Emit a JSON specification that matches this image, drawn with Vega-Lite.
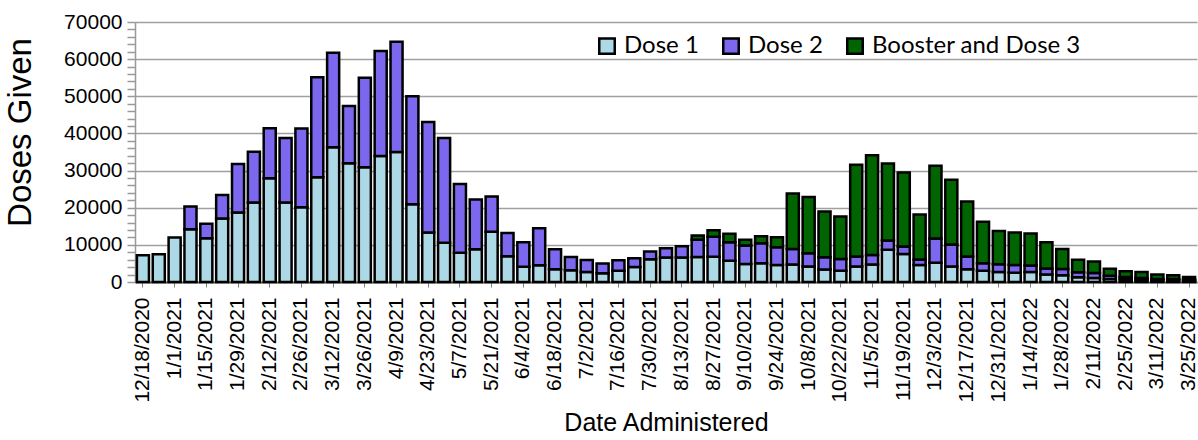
{
  "$schema": "https://vega.github.io/schema/vega-lite/v6.json",
  "width": 1062,
  "height": 260,
  "autosize": {"type": "none"},
  "padding": {"left": 135, "top": 22, "right": 1, "bottom": 158},
  "background": "white",
  "config": {
    "view": {"stroke": null},
    "font": "Liberation Sans"
  },
  "data": {
    "values": [
      {"date": "12/18/2020", "Dose 1": 7200, "Dose 2": 0, "Booster and Dose 3": 0},
      {"date": "12/25/2020", "Dose 1": 7500, "Dose 2": 0, "Booster and Dose 3": 0},
      {"date": "1/1/2021", "Dose 1": 12000, "Dose 2": 0, "Booster and Dose 3": 0},
      {"date": "1/8/2021", "Dose 1": 14200, "Dose 2": 6100, "Booster and Dose 3": 0},
      {"date": "1/15/2021", "Dose 1": 11800, "Dose 2": 3900, "Booster and Dose 3": 0},
      {"date": "1/22/2021", "Dose 1": 17100, "Dose 2": 6300, "Booster and Dose 3": 0},
      {"date": "1/29/2021", "Dose 1": 18700, "Dose 2": 13100, "Booster and Dose 3": 0},
      {"date": "2/5/2021", "Dose 1": 21400, "Dose 2": 13700, "Booster and Dose 3": 0},
      {"date": "2/12/2021", "Dose 1": 27900, "Dose 2": 13500, "Booster and Dose 3": 0},
      {"date": "2/19/2021", "Dose 1": 21400, "Dose 2": 17400, "Booster and Dose 3": 0},
      {"date": "2/26/2021", "Dose 1": 20100, "Dose 2": 21200, "Booster and Dose 3": 0},
      {"date": "3/5/2021", "Dose 1": 28200, "Dose 2": 26900, "Booster and Dose 3": 0},
      {"date": "3/12/2021", "Dose 1": 36300, "Dose 2": 25400, "Booster and Dose 3": 0},
      {"date": "3/19/2021", "Dose 1": 32000, "Dose 2": 15400, "Booster and Dose 3": 0},
      {"date": "3/26/2021", "Dose 1": 30900, "Dose 2": 24100, "Booster and Dose 3": 0},
      {"date": "4/2/2021", "Dose 1": 33900, "Dose 2": 28300, "Booster and Dose 3": 0},
      {"date": "4/9/2021", "Dose 1": 35000, "Dose 2": 29700, "Booster and Dose 3": 0},
      {"date": "4/16/2021", "Dose 1": 20900, "Dose 2": 29100, "Booster and Dose 3": 0},
      {"date": "4/23/2021", "Dose 1": 13300, "Dose 2": 29800, "Booster and Dose 3": 0},
      {"date": "4/30/2021", "Dose 1": 10600, "Dose 2": 28200, "Booster and Dose 3": 0},
      {"date": "5/7/2021", "Dose 1": 7900, "Dose 2": 18500, "Booster and Dose 3": 0},
      {"date": "5/14/2021", "Dose 1": 8800, "Dose 2": 13400, "Booster and Dose 3": 0},
      {"date": "5/21/2021", "Dose 1": 13500, "Dose 2": 9500, "Booster and Dose 3": 0},
      {"date": "5/28/2021", "Dose 1": 6900, "Dose 2": 6300, "Booster and Dose 3": 0},
      {"date": "6/4/2021", "Dose 1": 4100, "Dose 2": 6600, "Booster and Dose 3": 0},
      {"date": "6/11/2021", "Dose 1": 4500, "Dose 2": 10000, "Booster and Dose 3": 0},
      {"date": "6/18/2021", "Dose 1": 3400, "Dose 2": 5400, "Booster and Dose 3": 0},
      {"date": "6/25/2021", "Dose 1": 3150, "Dose 2": 3600, "Booster and Dose 3": 0},
      {"date": "7/2/2021", "Dose 1": 2700, "Dose 2": 3250, "Booster and Dose 3": 0},
      {"date": "7/9/2021", "Dose 1": 2350, "Dose 2": 2600, "Booster and Dose 3": 0},
      {"date": "7/16/2021", "Dose 1": 3000, "Dose 2": 2850, "Booster and Dose 3": 0},
      {"date": "7/23/2021", "Dose 1": 4050, "Dose 2": 2350, "Booster and Dose 3": 0},
      {"date": "7/30/2021", "Dose 1": 6100, "Dose 2": 2100, "Booster and Dose 3": 0},
      {"date": "8/6/2021", "Dose 1": 6600, "Dose 2": 2500, "Booster and Dose 3": 0},
      {"date": "8/13/2021", "Dose 1": 6600, "Dose 2": 3050, "Booster and Dose 3": 0},
      {"date": "8/20/2021", "Dose 1": 6750, "Dose 2": 4600, "Booster and Dose 3": 1150},
      {"date": "8/27/2021", "Dose 1": 6800, "Dose 2": 5350, "Booster and Dose 3": 1750},
      {"date": "9/3/2021", "Dose 1": 5750, "Dose 2": 4950, "Booster and Dose 3": 2300},
      {"date": "9/10/2021", "Dose 1": 4850, "Dose 2": 4950, "Booster and Dose 3": 1550},
      {"date": "9/17/2021", "Dose 1": 5050, "Dose 2": 5400, "Booster and Dose 3": 1900},
      {"date": "9/24/2021", "Dose 1": 4600, "Dose 2": 4750, "Booster and Dose 3": 2700},
      {"date": "10/1/2021", "Dose 1": 4700, "Dose 2": 4200, "Booster and Dose 3": 14900},
      {"date": "10/8/2021", "Dose 1": 4150, "Dose 2": 3600, "Booster and Dose 3": 15150},
      {"date": "10/15/2021", "Dose 1": 3350, "Dose 2": 3300, "Booster and Dose 3": 12350},
      {"date": "10/22/2021", "Dose 1": 3050, "Dose 2": 3150, "Booster and Dose 3": 11450},
      {"date": "10/29/2021", "Dose 1": 4150, "Dose 2": 2700, "Booster and Dose 3": 24750},
      {"date": "11/5/2021", "Dose 1": 4700, "Dose 2": 2600, "Booster and Dose 3": 26800},
      {"date": "11/12/2021", "Dose 1": 8650, "Dose 2": 2500, "Booster and Dose 3": 20750},
      {"date": "11/19/2021", "Dose 1": 7550, "Dose 2": 2000, "Booster and Dose 3": 19900},
      {"date": "11/26/2021", "Dose 1": 4600, "Dose 2": 1450, "Booster and Dose 3": 12150},
      {"date": "12/3/2021", "Dose 1": 5150, "Dose 2": 6550, "Booster and Dose 3": 19600},
      {"date": "12/10/2021", "Dose 1": 4150, "Dose 2": 5950, "Booster and Dose 3": 17400},
      {"date": "12/17/2021", "Dose 1": 3450, "Dose 2": 3400, "Booster and Dose 3": 14850},
      {"date": "12/24/2021", "Dose 1": 3000, "Dose 2": 2050, "Booster and Dose 3": 11150},
      {"date": "12/31/2021", "Dose 1": 2700, "Dose 2": 2100, "Booster and Dose 3": 8950},
      {"date": "1/7/2022", "Dose 1": 2500, "Dose 2": 2050, "Booster and Dose 3": 8750},
      {"date": "1/14/2022", "Dose 1": 2700, "Dose 2": 1750, "Booster and Dose 3": 8600},
      {"date": "1/21/2022", "Dose 1": 2000, "Dose 2": 1650, "Booster and Dose 3": 7050},
      {"date": "1/28/2022", "Dose 1": 1800, "Dose 2": 1700, "Booster and Dose 3": 5400},
      {"date": "2/4/2022", "Dose 1": 1300, "Dose 2": 1350, "Booster and Dose 3": 3350},
      {"date": "2/11/2022", "Dose 1": 1100, "Dose 2": 1300, "Booster and Dose 3": 3100},
      {"date": "2/18/2022", "Dose 1": 800, "Dose 2": 900, "Booster and Dose 3": 1900},
      {"date": "2/25/2022", "Dose 1": 700, "Dose 2": 650, "Booster and Dose 3": 1550},
      {"date": "3/4/2022", "Dose 1": 550, "Dose 2": 550, "Booster and Dose 3": 1600},
      {"date": "3/11/2022", "Dose 1": 450, "Dose 2": 350, "Booster and Dose 3": 1200},
      {"date": "3/18/2022", "Dose 1": 450, "Dose 2": 350, "Booster and Dose 3": 1000},
      {"date": "3/25/2022", "Dose 1": 350, "Dose 2": 300, "Booster and Dose 3": 700}
    ]
  },
  "transform": [
    {"fold": ["Dose 1", "Dose 2", "Booster and Dose 3"], "as": ["series", "doses"]},
    {"filter": "datum.doses > 0"},
    {"window": [{"op": "row_number", "as": "stackpos"}], "groupby": ["date"]}
  ],
  "mark": {"type": "bar", "stroke": "black", "strokeWidth": 2.5},
  "encoding": {
    "x": {
      "field": "date",
      "type": "ordinal",
      "sort": null,
      "scale": {"paddingInner": 0.24, "paddingOuter": 0.12},
      "axis": {
        "title": "Date Administered",
        "titleFont": "Liberation Sans",
        "titleFontSize": 25,
        "titleFontWeight": "normal",
        "titleColor": "black",
        "titlePadding": 8,
        "values": ["12/18/2020", "1/1/2021", "1/15/2021", "1/29/2021", "2/12/2021", "2/26/2021", "3/12/2021", "3/26/2021", "4/9/2021", "4/23/2021", "5/7/2021", "5/21/2021", "6/4/2021", "6/18/2021", "7/2/2021", "7/16/2021", "7/30/2021", "8/13/2021", "8/27/2021", "9/10/2021", "9/24/2021", "10/8/2021", "10/22/2021", "11/5/2021", "11/19/2021", "12/3/2021", "12/17/2021", "12/31/2021", "1/14/2022", "1/28/2022", "2/11/2022", "2/25/2022", "3/11/2022", "3/25/2022"],
        "labelAngle": 270,
        "labelFont": "Liberation Sans",
        "labelFontSize": 21,
        "labelColor": "black",
        "labelPadding": 10,
        "labelOverlap": false,
        "tickSize": 5,
        "tickColor": "#808080",
        "domainColor": "#606060",
        "domainWidth": 2
      }
    },
    "y": {
      "field": "doses",
      "type": "quantitative",
      "stack": "zero",
      "scale": {"domain": [0, 70000], "nice": false},
      "axis": {
        "title": "Doses Given",
        "titleFont": "Liberation Sans",
        "titleFontSize": 33,
        "titleFontWeight": "normal",
        "titleColor": "black",
        "titlePadding": 26,
        "titleY": 110,
        "values": [0, 2000, 4000, 6000, 8000, 10000, 12000, 14000, 16000, 18000, 20000, 22000, 24000, 26000, 28000, 30000, 32000, 34000, 36000, 38000, 40000, 42000, 44000, 46000, 48000, 50000, 52000, 54000, 56000, 58000, 60000, 62000, 64000, 66000, 68000, 70000],
        "format": "d",
        "labelFont": "Liberation Sans",
        "labelFontSize": 21,
        "labelColor": "black",
        "labelOverlap": false,
        "labelOpacity": {"condition": {"test": "datum.value % 10000 == 0", "value": 1}, "value": 0},
        "labelPadding": 5,
        "tickSize": 8,
        "tickColor": "#999999",
        "tickWidth": 1.5,
        "domainColor": "#999999",
        "domainWidth": 1.5,
        "grid": true,
        "gridColor": "#a0a0a0",
        "gridWidth": 1.5,
        "gridOpacity": {"condition": {"test": "datum.value % 10000 == 0", "value": 1}, "value": 0}
      }
    },
    "color": {
      "field": "series",
      "type": "nominal",
      "sort": ["Dose 1", "Dose 2", "Booster and Dose 3"],
      "scale": {
        "domain": ["Dose 1", "Dose 2", "Booster and Dose 3"],
        "range": ["#ADD8E6", "#7B68EE", "#006400"]
      },
      "legend": {
        "title": null,
        "orient": "none",
        "direction": "horizontal",
        "legendX": 460,
        "legendY": 12,
        "padding": 0,
        "symbolType": "square",
        "symbolSize": 240,
        "symbolStrokeColor": "black",
        "symbolStrokeWidth": 2.5,
        "symbolOpacity": 1,
        "labelFont": "Lato",
        "labelFontSize": 24,
        "labelColor": "black",
        "labelOffset": 5,
        "columnPadding": 19,
        "labelLimit": 400
      }
    },
    "order": {"field": "stackpos", "type": "quantitative", "sort": "ascending"}
  }
}
